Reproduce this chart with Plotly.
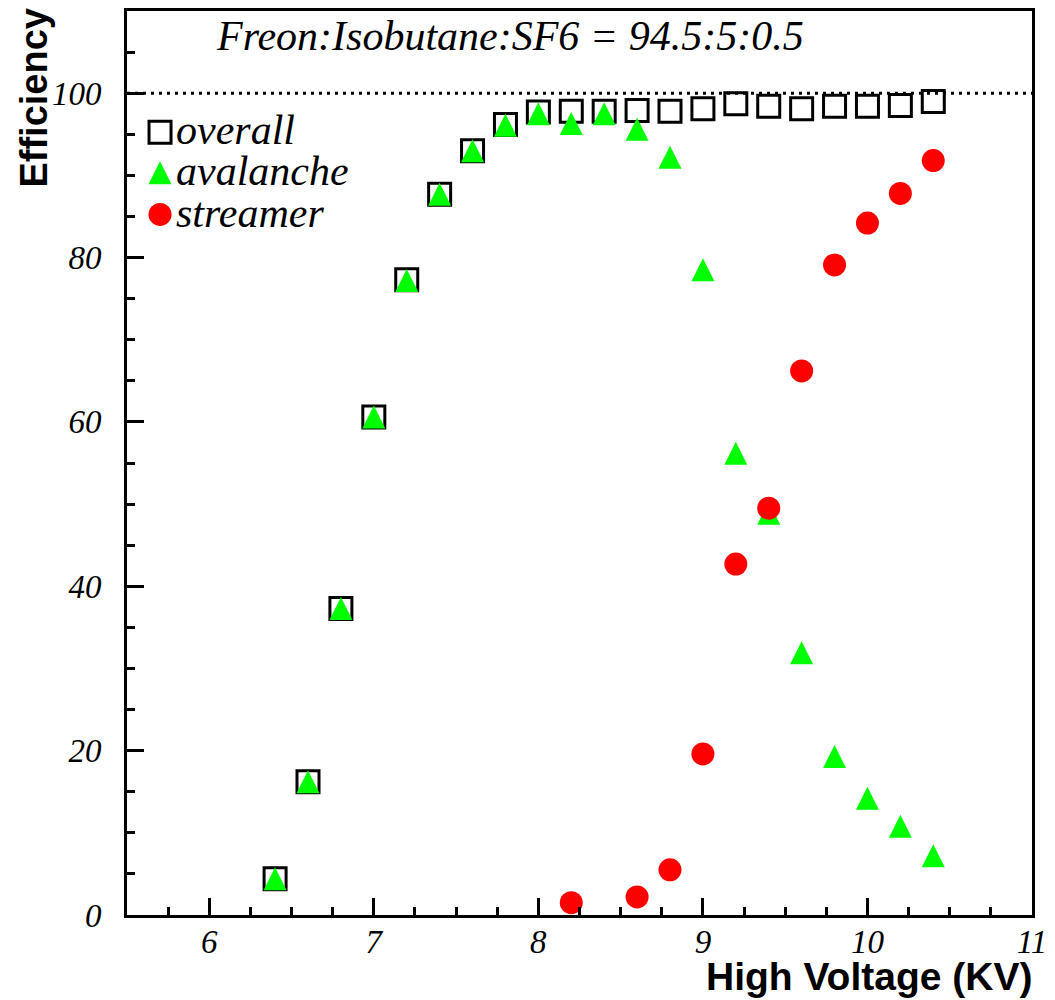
import plotly.graph_objects as go

# High voltage scan (kV)
hv = [6.4, 6.6, 6.8, 7.0, 7.2, 7.4, 7.6, 7.8, 8.0, 8.2, 8.4,
      8.6, 8.8, 9.0, 9.2, 9.4, 9.6, 9.8, 10.0, 10.2, 10.4]

# Efficiencies (%)
overall = [4.4, 16.2, 37.3, 60.6, 77.3, 87.7, 93.0, 96.2, 97.7, 97.8, 97.8,
           97.9, 97.8, 98.1, 98.7, 98.4, 98.1, 98.4, 98.4, 98.5, 99.0]
avalanche = [4.4, 16.2, 37.3, 60.6, 77.2, 87.7, 93.0, 96.1, 97.5, 96.3, 97.5,
             95.6, 92.2, 78.5, 56.2, 48.9, 31.9, 19.3, 14.2, 10.8, 7.2]

hv_streamer = [8.2, 8.6, 8.8, 9.0, 9.2, 9.4, 9.6, 9.8, 10.0, 10.2, 10.4]
streamer = [1.5, 2.2, 5.5, 19.6, 42.7, 49.5, 66.2, 79.1, 84.2, 87.8, 91.8]

x_ticks = [6, 7, 8, 9, 10, 11]
y_ticks = [0, 20, 40, 60, 80, 100]
title_text = "Freon:Isobutane:SF6 = 94.5:5:0.5"
legend_names = ["overall", "avalanche", "streamer"]

SERIF = "Liberation Serif, Times New Roman, serif"
SANS = "Liberation Sans, Arial, sans-serif"

sq_marker = dict(symbol="square-open", size=22, color="black", line=dict(width=3, color="black"))
tri_marker = dict(symbol="arrow-down", angle=180, standoff=11.5, size=23,
                  color="#00ff00", line=dict(width=0))
dot_marker = dict(symbol="circle", size=23, color="#ff0000", line=dict(width=0))

fig = go.Figure()
fig.add_trace(go.Scatter(x=hv, y=overall, mode="markers", marker=sq_marker,
                         name=legend_names[0], showlegend=False, cliponaxis=False))
fig.add_trace(go.Scatter(x=hv, y=avalanche, mode="markers", marker=tri_marker,
                         name=legend_names[1], showlegend=False, cliponaxis=False))
fig.add_trace(go.Scatter(x=hv_streamer, y=streamer, mode="markers", marker=dot_marker,
                         name=legend_names[2], showlegend=False, cliponaxis=False))

# Hand-drawn legend key on an overlay axis spanning the frame (0..1)
key_x = 0.0365
key_y = [0.866, 0.821, 0.775]
for m, yy in zip([sq_marker, tri_marker, dot_marker], key_y):
    fig.add_trace(go.Scatter(x=[key_x], y=[yy], mode="markers", marker=m,
                             xaxis="x2", yaxis="y2", showlegend=False,
                             hoverinfo="skip", cliponaxis=False))
for name, yy in zip(legend_names, key_y):
    fig.add_annotation(x=0.052, y=yy + 0.002, xref="x2", yref="y2", text=name,
                       showarrow=False, xanchor="left", yanchor="middle",
                       font=dict(family=SERIF, size=42, style="italic", color="black"))

# Reference line at 100 %
fig.add_shape(type="line", xref="paper", x0=0, x1=1, yref="y", y0=100, y1=100,
              line=dict(color="black", width=3, dash="3px,5px"))

fig.add_annotation(x=0.423, y=0.972, xref="paper", yref="paper", text=title_text,
                   showarrow=False, xanchor="center", yanchor="middle",
                   font=dict(family=SERIF, size=42, style="italic", color="black"))
fig.add_annotation(x=-0.1028, y=1.006, xref="paper", yref="paper", text="Efficiency",
                   textangle=-90, showarrow=False, xanchor="center", yanchor="top",
                   font=dict(family=SANS, size=38, weight="bold", color="black"))
fig.add_annotation(x=1.002, y=-0.068, xref="paper", yref="paper", text="High Voltage (KV)",
                   showarrow=False, xanchor="right", yanchor="middle",
                   font=dict(family=SANS, size=39, weight="bold", color="black"))

tick_font = dict(family=SERIF, size=33, style="italic", color="black")

fig.update_layout(
    width=1055, height=1000,
    margin=dict(l=127, r=23, t=8, b=85),
    paper_bgcolor="white", plot_bgcolor="white",
    showlegend=False,
    xaxis=dict(range=[5.5, 11], tickvals=x_ticks, ticktext=[str(v) for v in x_ticks],
               ticks="inside", ticklen=17, tickwidth=3, tickcolor="black",
               minor=dict(dtick=0.25, tick0=5.5, ticks="inside", ticklen=8,
                          tickwidth=3, tickcolor="black", showgrid=False),
               showline=True, linewidth=3, linecolor="black", mirror=True,
               showgrid=False, zeroline=False, tickfont=tick_font,
               ticklabelstandoff=-5),
    yaxis=dict(range=[0, 110], tickvals=y_ticks, ticktext=[str(v) for v in y_ticks],
               ticks="inside", ticklen=17, tickwidth=3, tickcolor="black",
               minor=dict(dtick=5, tick0=0, ticks="inside", ticklen=8,
                          tickwidth=3, tickcolor="black", showgrid=False),
               showline=True, linewidth=3, linecolor="black", mirror=True,
               showgrid=False, zeroline=False, tickfont=tick_font,
               ticklabelstandoff=16),
    xaxis2=dict(range=[0, 1], overlaying="x", visible=False, fixedrange=True),
    yaxis2=dict(range=[0, 1], overlaying="y", visible=False, fixedrange=True),
)

fig.write_html("out.html")
